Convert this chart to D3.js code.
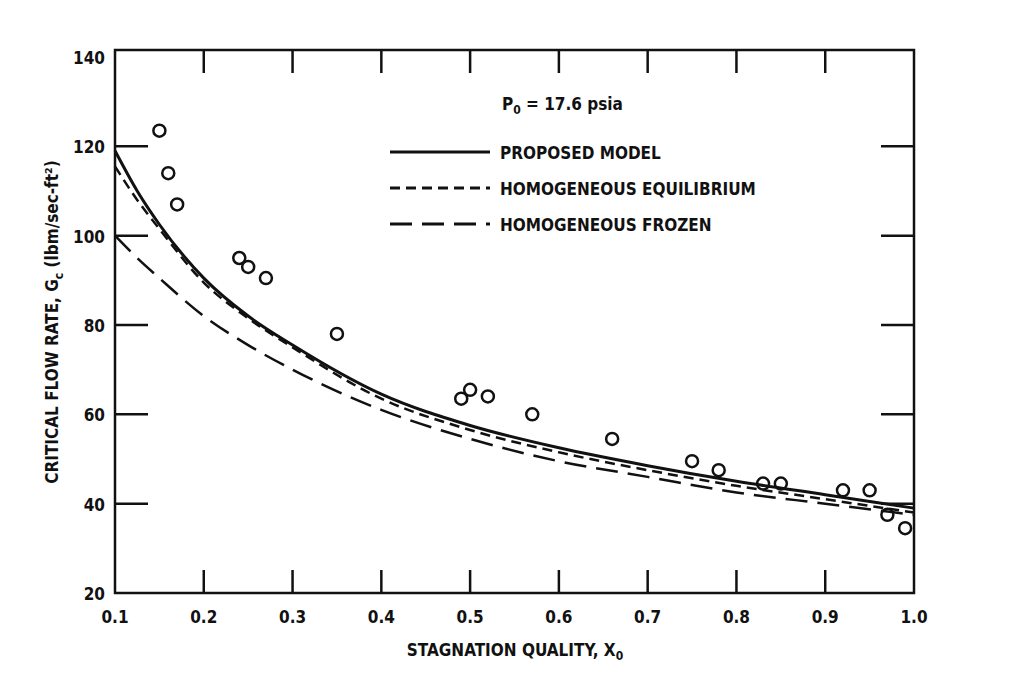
<!DOCTYPE html>
<html><head><meta charset="utf-8">
<script src="https://cdn.jsdelivr.net/npm/d3@7"></script>
<style>body{margin:0;background:#fff}text{font-family:"DejaVu Sans Condensed","DejaVu Sans",sans-serif;font-weight:bold;fill:#111}</style>
</head><body><div id="chart"></div>
<script>
var width = 1017, height = 689
var xTicks = [0.1,0.2,0.3,0.4,0.5,0.6,0.7,0.8,0.9,1.0]
var xTickLabels = ["0.1","0.2","0.3","0.4","0.5","0.6","0.7","0.8","0.9","1.0"]
var yTicks = [20,40,60,80,100,120,140]
// measured points (x0, Gc)
var points = [[0.15,123.5],[0.16,114],[0.17,107],[0.24,95],[0.25,93],[0.27,90.5],[0.35,78],
  [0.49,63.5],[0.50,65.5],[0.52,64],[0.57,60],[0.66,54.5],[0.75,49.5],[0.78,47.5],
  [0.83,44.5],[0.85,44.5],[0.92,43],[0.95,43],[0.97,37.5],[0.99,34.5]]
var proposed = [[0.1,119],[0.125,110],[0.15,102.5],[0.2,90.5],[0.25,82],[0.3,75.5],[0.4,64.5],[0.5,57.5],[0.6,52.5],[0.7,48.5],[0.8,45],[0.9,42],[1.0,39]]
var homEquil = [[0.1,115.5],[0.125,108],[0.15,101.5],[0.2,89.5],[0.25,81.5],[0.3,75],[0.4,63.5],[0.5,56.5],[0.6,51.5],[0.7,47.5],[0.8,44],[0.9,41],[1.0,38]]
var homFrozen = [[0.1,100],[0.125,95],[0.15,90.5],[0.2,82],[0.25,75.5],[0.3,70],[0.4,61],[0.5,54.5],[0.6,49.5],[0.7,46],[0.8,42.5],[0.9,40],[1.0,37.5]]
var legend = [["PROPOSED MODEL",null],["HOMOGENEOUS EQUILIBRIUM","10,6"],["HOMOGENEOUS FROZEN","22,10"]]

var svg = d3.select("#chart").append("svg").attr("width", width).attr("height", height)
var x = d3.scaleLinear().domain([0.1,1.0]).range([115,914])
var y = d3.scaleLinear().domain([20,140]).range([593,57])
var line = d3.line().x(d=>x(d[0])).y(d=>y(d[1])).curve(d3.curveMonotoneX)

svg.append("rect").attr("x",115).attr("y",50).attr("width",799).attr("height",543)
  .attr("fill","none").attr("stroke","#111").attr("stroke-width",2.5)

// inward ticks
svg.selectAll("line.xb").data(xTicks.slice(1,-1)).enter().append("line")
  .attr("x1",x).attr("x2",x).attr("y1",593).attr("y2",570).attr("stroke","#111").attr("stroke-width",2.5)
svg.selectAll("line.xt").data(xTicks.slice(1,-1)).enter().append("line")
  .attr("x1",x).attr("x2",x).attr("y1",50).attr("y2",73).attr("stroke","#111").attr("stroke-width",2.5)
svg.selectAll("line.yl").data(yTicks.slice(1,-1)).enter().append("line")
  .attr("x1",115).attr("x2",148).attr("y1",y).attr("y2",y).attr("stroke","#111").attr("stroke-width",2.5)
svg.selectAll("line.yr").data(yTicks.slice(1,-1)).enter().append("line")
  .attr("x1",881).attr("x2",914).attr("y1",y).attr("y2",y).attr("stroke","#111").attr("stroke-width",2.5)

svg.selectAll("text.xl").data(xTicks).enter().append("text")
  .attr("x",x).attr("y",623).attr("text-anchor","middle").attr("font-size",17).text((d,i)=>xTickLabels[i])
svg.selectAll("text.yl").data(yTicks).enter().append("text")
  .attr("x",105).attr("y",d=>y(d)+7).attr("text-anchor","end").attr("font-size",17).text(d=>d)

var xl = svg.append("text").attr("x",515).attr("y",656).attr("text-anchor","middle").attr("font-size",17).text("STAGNATION QUALITY, X")
xl.append("tspan").attr("font-size",12).attr("dy",4).text("0")
var yl = svg.append("text").attr("transform","translate(58,322) rotate(-90)").attr("text-anchor","middle").attr("font-size",17)
  .text("CRITICAL FLOW RATE, G")
yl.append("tspan").attr("font-size",12).attr("dy",5).text("c")
yl.append("tspan").attr("dy",-5).text(" (lbm/sec-ft²)")

svg.append("path").attr("d",line(proposed)).attr("fill","none").attr("stroke","#111").attr("stroke-width",3)
svg.append("path").attr("d",line(homEquil)).attr("fill","none").attr("stroke","#111").attr("stroke-width",2.5).attr("stroke-dasharray","10,6")
svg.append("path").attr("d",line(homFrozen)).attr("fill","none").attr("stroke","#111").attr("stroke-width",2.5).attr("stroke-dasharray","22,10")

svg.selectAll("circle").data(points).enter().append("circle")
  .attr("cx",d=>x(d[0])).attr("cy",d=>y(d[1])).attr("r",6)
  .attr("fill","none").attr("stroke","#111").attr("stroke-width",2.5)

var pt = svg.append("text").attr("x",502).attr("y",110).attr("font-size",17).text("P")
pt.append("tspan").attr("font-size",12).attr("dy",4).text("0")
pt.append("tspan").attr("dy",-4).text(" = 17.6 psia")
var lg = svg.selectAll("g.lg").data(legend).enter().append("g").attr("transform",(d,i)=>"translate(390,"+(152+i*36)+")")
lg.append("line").attr("x1",0).attr("x2",100).attr("stroke","#111").attr("stroke-width",3)
  .attr("stroke-dasharray",d=>d[1])
lg.append("text").attr("x",110).attr("y",7).attr("font-size",17).text(d=>d[0])
</script></body></html>
